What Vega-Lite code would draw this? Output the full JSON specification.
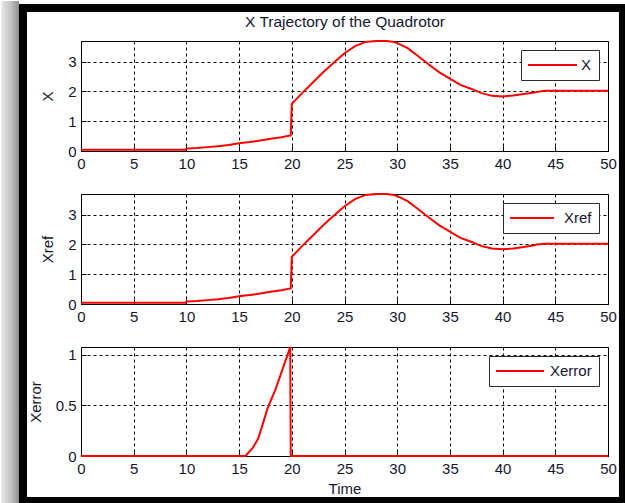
{
  "$schema": "https://vega.github.io/schema/vega-lite/v6.json",
  "background": "#ffffff",
  "padding": 0,
  "autosize": {"type": "pad"},
  "spacing": 43,
  "bounds": "flush",
  "resolve": {"scale": {"color": "independent"}, "legend": {"color": "independent"}},
  "datasets": {
    "pos": [
      {"t": 0, "v": 0.04, "series": "X"},
      {"t": 9.9, "v": 0.04, "series": "X"},
      {"t": 10, "v": 0.08, "series": "X"},
      {"t": 11, "v": 0.1, "series": "X"},
      {"t": 12, "v": 0.13, "series": "X"},
      {"t": 13, "v": 0.16, "series": "X"},
      {"t": 14, "v": 0.2, "series": "X"},
      {"t": 15, "v": 0.26, "series": "X"},
      {"t": 16, "v": 0.3, "series": "X"},
      {"t": 17, "v": 0.35, "series": "X"},
      {"t": 18, "v": 0.41, "series": "X"},
      {"t": 19, "v": 0.46, "series": "X"},
      {"t": 19.9, "v": 0.52, "series": "X"},
      {"t": 20, "v": 1.58, "series": "X"},
      {"t": 21, "v": 1.95, "series": "X"},
      {"t": 22, "v": 2.3, "series": "X"},
      {"t": 23, "v": 2.65, "series": "X"},
      {"t": 24, "v": 2.97, "series": "X"},
      {"t": 25, "v": 3.28, "series": "X"},
      {"t": 26, "v": 3.52, "series": "X"},
      {"t": 27, "v": 3.66, "series": "X"},
      {"t": 28, "v": 3.69, "series": "X"},
      {"t": 29, "v": 3.69, "series": "X"},
      {"t": 29.7, "v": 3.66, "series": "X"},
      {"t": 30, "v": 3.62, "series": "X"},
      {"t": 31, "v": 3.45, "series": "X"},
      {"t": 32, "v": 3.18, "series": "X"},
      {"t": 33, "v": 2.9, "series": "X"},
      {"t": 34, "v": 2.64, "series": "X"},
      {"t": 35, "v": 2.43, "series": "X"},
      {"t": 36, "v": 2.22, "series": "X"},
      {"t": 37, "v": 2.09, "series": "X"},
      {"t": 38, "v": 1.94, "series": "X"},
      {"t": 39, "v": 1.85, "series": "X"},
      {"t": 40, "v": 1.83, "series": "X"},
      {"t": 41, "v": 1.86, "series": "X"},
      {"t": 42, "v": 1.91, "series": "X"},
      {"t": 43, "v": 1.96, "series": "X"},
      {"t": 43.6, "v": 2.0, "series": "X"},
      {"t": 44, "v": 2.02, "series": "X"},
      {"t": 50, "v": 2.02, "series": "X"}
    ],
    "ref": [
      {"t": 0, "v": 0.04, "series": "Xref"},
      {"t": 9.9, "v": 0.04, "series": "Xref"},
      {"t": 10, "v": 0.08, "series": "Xref"},
      {"t": 11, "v": 0.1, "series": "Xref"},
      {"t": 12, "v": 0.13, "series": "Xref"},
      {"t": 13, "v": 0.16, "series": "Xref"},
      {"t": 14, "v": 0.2, "series": "Xref"},
      {"t": 15, "v": 0.26, "series": "Xref"},
      {"t": 16, "v": 0.3, "series": "Xref"},
      {"t": 17, "v": 0.35, "series": "Xref"},
      {"t": 18, "v": 0.41, "series": "Xref"},
      {"t": 19, "v": 0.46, "series": "Xref"},
      {"t": 19.9, "v": 0.52, "series": "Xref"},
      {"t": 20, "v": 1.58, "series": "Xref"},
      {"t": 21, "v": 1.95, "series": "Xref"},
      {"t": 22, "v": 2.3, "series": "Xref"},
      {"t": 23, "v": 2.65, "series": "Xref"},
      {"t": 24, "v": 2.97, "series": "Xref"},
      {"t": 25, "v": 3.28, "series": "Xref"},
      {"t": 26, "v": 3.52, "series": "Xref"},
      {"t": 27, "v": 3.66, "series": "Xref"},
      {"t": 28, "v": 3.69, "series": "Xref"},
      {"t": 29, "v": 3.69, "series": "Xref"},
      {"t": 29.7, "v": 3.66, "series": "Xref"},
      {"t": 30, "v": 3.62, "series": "Xref"},
      {"t": 31, "v": 3.45, "series": "Xref"},
      {"t": 32, "v": 3.18, "series": "Xref"},
      {"t": 33, "v": 2.9, "series": "Xref"},
      {"t": 34, "v": 2.64, "series": "Xref"},
      {"t": 35, "v": 2.43, "series": "Xref"},
      {"t": 36, "v": 2.22, "series": "Xref"},
      {"t": 37, "v": 2.09, "series": "Xref"},
      {"t": 38, "v": 1.94, "series": "Xref"},
      {"t": 39, "v": 1.86, "series": "Xref"},
      {"t": 40, "v": 1.84, "series": "Xref"},
      {"t": 41, "v": 1.86, "series": "Xref"},
      {"t": 42, "v": 1.91, "series": "Xref"},
      {"t": 43, "v": 1.97, "series": "Xref"},
      {"t": 43.3, "v": 2.0, "series": "Xref"},
      {"t": 44, "v": 2.02, "series": "Xref"},
      {"t": 50, "v": 2.02, "series": "Xref"}
    ],
    "err": [
      {"t": 0, "v": 0, "series": "Xerror"},
      {"t": 15.6, "v": 0, "series": "Xerror"},
      {"t": 16.3, "v": 0.08, "series": "Xerror"},
      {"t": 16.8, "v": 0.17, "series": "Xerror"},
      {"t": 17.2, "v": 0.3, "series": "Xerror"},
      {"t": 17.7, "v": 0.47, "series": "Xerror"},
      {"t": 18.5, "v": 0.67, "series": "Xerror"},
      {"t": 19.1, "v": 0.85, "series": "Xerror"},
      {"t": 19.85, "v": 1.075, "series": "Xerror"},
      {"t": 19.9, "v": 0, "series": "Xerror"},
      {"t": 50, "v": 0, "series": "Xerror"}
    ]
  },
  "vconcat": [
    {
      "width": 527,
      "height": 110,
      "resolve": {"axis": {"x": "independent"}},
      "layer": [
        {
          "data": {"name": "pos"},
          "mark": {"type": "line", "strokeWidth": 2},
          "encoding": {
            "x": {"field": "t", "type": "quantitative", "scale": {"domain": [0, 50], "nice": false, "zero": false}, "axis": {"values": [0, 5, 10, 15, 20, 25, 30, 35, 40, 45, 50], "title": null}},
            "y": {"field": "v", "type": "quantitative", "scale": {"domain": [0, 3.69], "nice": false}, "axis": {"values": [0, 1, 2, 3], "title": "X"}},
            "color": {"field": "series", "type": "nominal", "scale": {"domain": ["X"], "range": ["#ff0000"]}, "legend": {"title": null, "symbolType": "M-1.143,0H5.857", "labelOffset": 37}}
          }
        },
        {
          "data": {"values": [{}]},
          "mark": {
            "type": "rect",
            "fill": {
              "gradient": "linear",
              "x1": 0, "y1": 0, "x2": 1, "y2": 0,
              "stops": [
                {"offset": 0, "color": "#efefef"},
                {"offset": 0.15, "color": "#dcdcdc"},
                {"offset": 0.55, "color": "#c2c2c2"},
                {"offset": 1, "color": "#8e8e8e"}
              ]
            }
          },
          "encoding": {
            "x": {"datum": -7.59, "type": "quantitative", "scale": {"domain": [0, 50], "nice": false, "zero": false}, "axis": null},
            "x2": {"datum": -5.882},
            "y": {"datum": 5.032, "type": "quantitative", "scale": {"domain": [0, 3.69], "nice": false}, "axis": {"values": [0, 1, 2, 3], "title": "X"}},
            "y2": {"datum": -11.842}
          }
        },
        {
          "data": {"values": [{}]},
          "mark": {"type": "rect", "filled": false, "stroke": "#000000", "strokeWidth": 8},
          "encoding": {
            "x": {
              "datum": -5.503,
              "type": "quantitative",
              "scale": {"domain": [0, 50], "nice": false, "zero": false},
              "axis": {"orient": "top", "title": "X Trajectory of the Quadrotor", "titleFontSize": 15.5, "labels": false, "ticks": false, "grid": false, "domain": false, "titlePadding": 12}
            },
            "x2": {"datum": 51.42},
            "y": {"datum": 4.797, "type": "quantitative", "scale": {"domain": [0, 3.69], "nice": false}, "axis": {"values": [0, 1, 2, 3], "title": "X"}},
            "y2": {"datum": -11.741}
          }
        }
      ]
    },
    {
      "width": 527,
      "height": 110,
      "data": {"name": "ref"},
      "mark": {"type": "line", "strokeWidth": 2},
      "encoding": {
        "x": {"field": "t", "type": "quantitative", "scale": {"domain": [0, 50], "nice": false, "zero": false}, "axis": {"values": [0, 5, 10, 15, 20, 25, 30, 35, 40, 45, 50], "title": null}},
        "y": {"field": "v", "type": "quantitative", "scale": {"domain": [0, 3.69], "nice": false}, "axis": {"values": [0, 1, 2, 3], "title": "Xref"}},
        "color": {"field": "series", "type": "nominal", "scale": {"domain": ["Xref"], "range": ["#ff0000"]}, "legend": {"title": null, "symbolType": "M-1.143,0H5.143", "labelOffset": 38}}
      }
    },
    {
      "width": 527,
      "height": 109,
      "data": {"name": "err"},
      "mark": {"type": "line", "strokeWidth": 2},
      "encoding": {
        "x": {"field": "t", "type": "quantitative", "scale": {"domain": [0, 50], "nice": false, "zero": false}, "axis": {"values": [0, 5, 10, 15, 20, 25, 30, 35, 40, 45, 50], "title": "Time", "titlePadding": 5}},
        "y": {"field": "v", "type": "quantitative", "scale": {"domain": [0, 1.075], "nice": false}, "axis": {"values": [0, 0.5, 1], "format": "~g", "title": "Xerror"}},
        "color": {"field": "series", "type": "nominal", "scale": {"domain": ["Xerror"], "range": ["#ff0000"]}, "legend": {"title": null, "symbolType": "M-1.143,0H5.714", "labelOffset": 38}}
      }
    }
  ],
  "config": {
    "font": "Liberation Sans",
    "view": {"stroke": "#000000", "strokeWidth": 1},
    "axis": {
      "grid": true,
      "gridColor": "#000000",
      "gridDash": [3, 3],
      "gridWidth": 1,
      "gridOpacity": 1,
      "domain": false,
      "ticks": true,
      "tickColor": "#000000",
      "tickSize": -5,
      "labelFont": "Liberation Sans",
      "labelFontSize": 15,
      "labelColor": "#161630",
      "labelFlush": false,
      "labelPadding": 4,
      "titleFont": "Liberation Sans",
      "titleFontSize": 15,
      "titleFontWeight": "normal",
      "titleColor": "#161630",
      "titlePadding": 12
    },
    "axisX": {"labelPadding": 10},
    "axisY": {"labelPadding": 10},
    "legend": {
      "orient": "top-right",
      "offset": 9,
      "padding": 7,
      "fillColor": "#ffffff",
      "strokeColor": "#2b2b2b",
      "cornerRadius": 0,
      "symbolSize": 196,
      "symbolStrokeWidth": 2,
      "labelFont": "Liberation Sans",
      "labelFontSize": 15,
      "labelColor": "#161630"
    }
  }
}
